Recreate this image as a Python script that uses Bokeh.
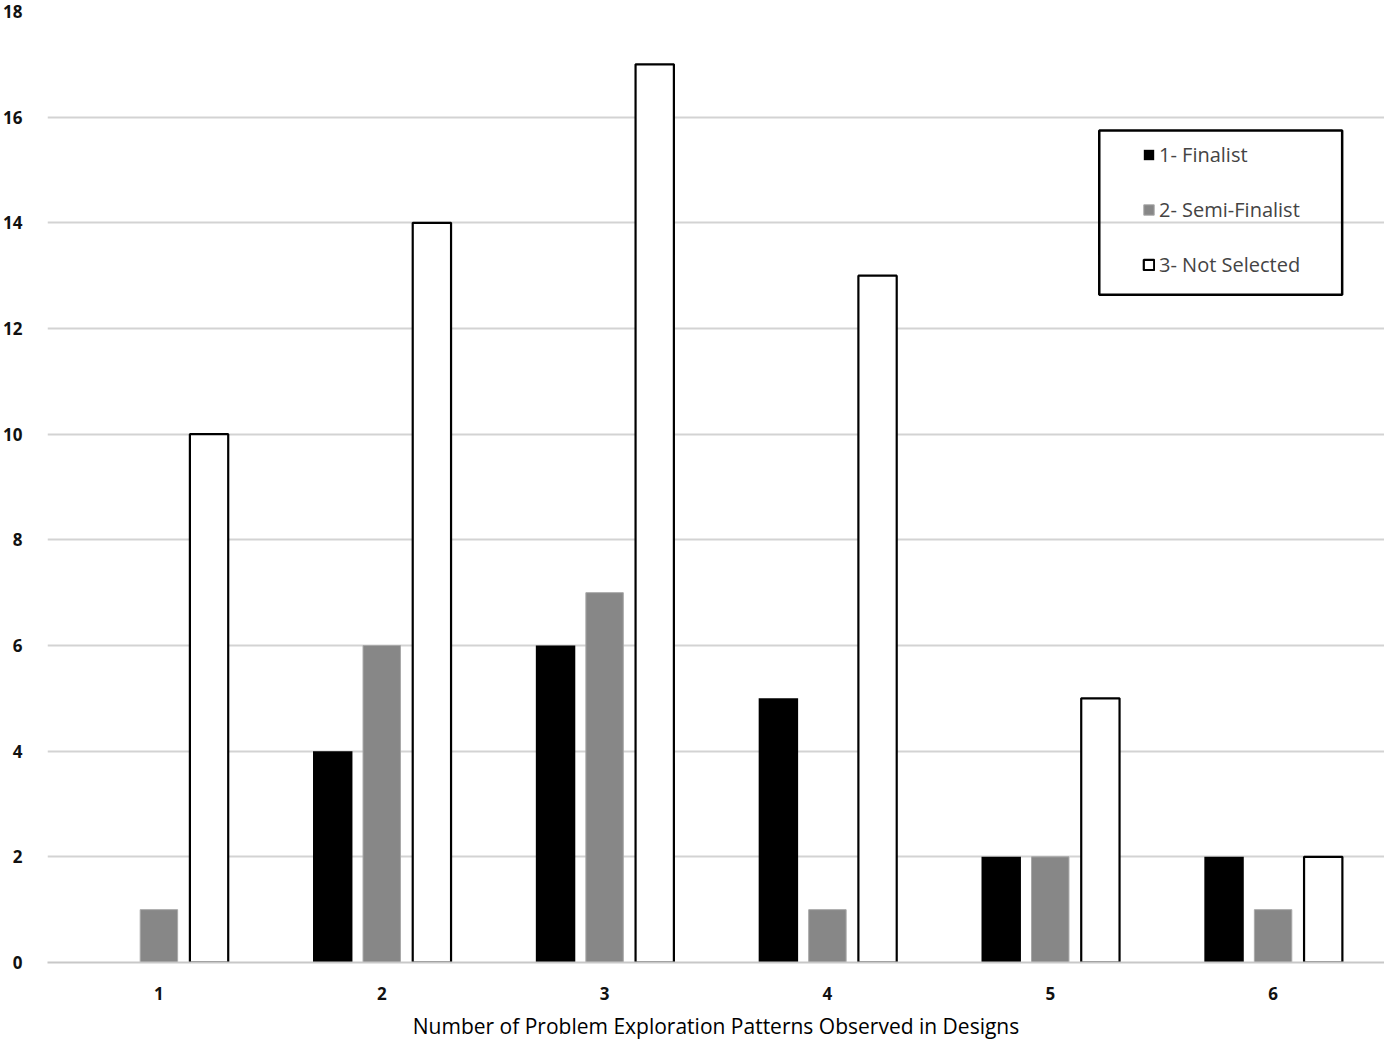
from bokeh.plotting import figure
from bokeh.models import ColumnDataSource, FactorRange, Range1d, FixedTicker, Legend, LegendItem, BoxAnnotation
from bokeh.transform import dodge
from bokeh.embed import file_html
from bokeh.resources import INLINE

categories = ["1", "2", "3", "4", "5", "6"]
finalist = [0, 4, 6, 5, 2, 2]
semi_finalist = [1, 6, 7, 1, 2, 1]
not_selected = [10, 14, 17, 13, 5, 2]
series_names = ["1- Finalist", "2- Semi-Finalist", "3- Not Selected"]
y_ticks = [0, 2, 4, 6, 8, 10, 12, 14, 16, 18]
x_title = "Number of Problem Exploration Patterns Observed in Designs"

source = ColumnDataSource(dict(cats=categories, fin=finalist, semi=semi_finalist, ns=not_selected))

FONT = "Open Sans"

p = figure(width=1384, height=1042, output_backend="svg", toolbar_location=None,
           x_range=FactorRange(*categories, range_padding=0), y_range=Range1d(0, 18),
           min_border_left=40, min_border_right=0, min_border_top=11, min_border_bottom=77)
p.outline_line_color = None
p.background_fill_color = "white"

r1 = p.vbar(x=dodge("cats", -0.22, range=p.x_range), top="fin", width=0.177, source=source,
            fill_color="#000000", line_color=None)
r2 = p.vbar(x=dodge("cats", 0.0, range=p.x_range), top="semi", width=0.168, source=source,
            fill_color="#878787", line_color="#a8a8a8", line_width=1)
r3 = p.vbar(x=dodge("cats", 0.225, range=p.x_range), top="ns", width=0.172, source=source,
            fill_color="#ffffff", line_color="#000000", line_width=2.2)

# grid
p.xgrid.grid_line_color = None
p.ygrid.grid_line_color = "#d3d3d3"
p.ygrid.grid_line_width = 2
p.ygrid.ticker = FixedTicker(ticks=y_ticks)

# y axis
p.yaxis.ticker = FixedTicker(ticks=y_ticks)
p.yaxis.axis_line_color = None
p.yaxis.major_tick_line_color = None
p.yaxis.minor_tick_line_color = None
p.yaxis.major_label_standoff = 19
p.yaxis.major_label_text_font = FONT
p.yaxis.major_label_text_font_style = "bold"
p.yaxis.major_label_text_font_size = "17px"
p.yaxis.major_label_text_color = "#111111"

# x axis
p.xaxis.axis_line_color = "#c8c8c8"
p.xaxis.axis_line_width = 2
p.xaxis.major_tick_line_color = None
p.xaxis.minor_tick_line_color = None
p.xaxis.major_label_standoff = 18
p.xaxis.major_label_text_font = FONT
p.xaxis.major_label_text_font_style = "bold"
p.xaxis.major_label_text_font_size = "17px"
p.xaxis.major_label_text_color = "#111111"
p.xaxis.axis_label = x_title
p.xaxis.axis_label_standoff = 9
p.xaxis.axis_label_text_font = FONT
p.xaxis.axis_label_text_font_style = "normal"
p.xaxis.axis_label_text_font_size = "21px"
p.xaxis.axis_label_text_color = "#000000"

# legend box
box = BoxAnnotation(left=4.72, right=5.81, top=15.75, bottom=12.64,
                    fill_alpha=0, line_color="#000000", line_width=2.5, line_alpha=1)
p.add_layout(box)

legend = Legend(items=[LegendItem(label=series_names[0], renderers=[r1]),
                       LegendItem(label=series_names[1], renderers=[r2]),
                       LegendItem(label=series_names[2], renderers=[r3])],
                location=(1095, 684), orientation="vertical",
                border_line_color=None, background_fill_alpha=0,
                padding=0, margin=0, spacing=28,
                glyph_height=13, glyph_width=13, label_height=14, label_standoff=4,
                label_text_font=FONT, label_text_font_size="20px", label_text_color="#444444")
p.add_layout(legend, "center")

open("out.html", "w").write(file_html(p, INLINE))
